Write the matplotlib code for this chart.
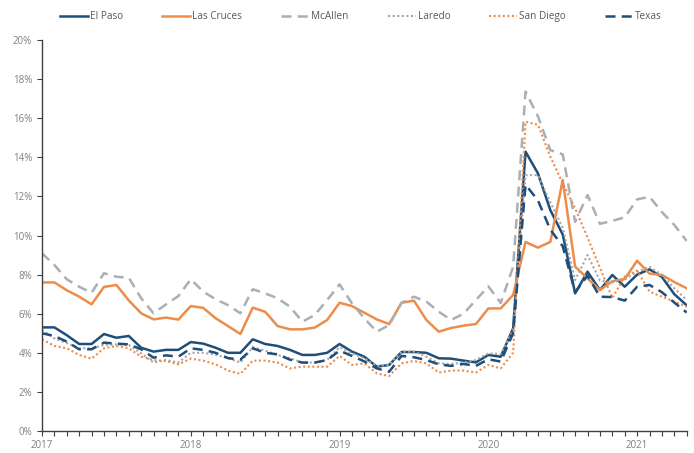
import matplotlib
matplotlib.use("Agg")
import matplotlib.pyplot as plt
import numpy as np
import pandas as pd

# monthly rates, Jan 2017 - May 2021 (percent)
months = pd.date_range("2017-01-01", periods=53, freq="MS")

el_paso = [5.3, 5.3, 4.9, 4.45, 4.45, 4.96, 4.77, 4.86, 4.26, 4.06, 4.15, 4.15,
           4.55, 4.47, 4.26, 4.0, 4.0, 4.69, 4.45, 4.35, 4.15, 3.89, 3.89, 4.0,
           4.45, 4.06, 3.8, 3.29, 3.38, 4.04, 4.04, 4.0, 3.72, 3.7, 3.6, 3.51,
           3.89, 3.8, 5.25, 14.29, 13.18, 11.3, 10.05, 7.04, 8.15, 7.21, 7.98, 7.38,
           8.0, 8.27, 7.88, 7.0, 6.43]
las_cruces = [7.6, 7.6, 7.2, 6.87, 6.48, 7.37, 7.47, 6.68, 6.02, 5.71, 5.8, 5.7,
              6.39, 6.3, 5.77, 5.37, 4.96, 6.31, 6.1, 5.37, 5.2, 5.2, 5.29, 5.68,
              6.56, 6.39, 6.05, 5.71, 5.47, 6.56, 6.67, 5.68, 5.08, 5.27, 5.39, 5.47,
              6.27, 6.27, 6.96, 9.67, 9.38, 9.67, 12.84, 8.41, 7.81, 7.21, 7.66, 7.78,
              8.71, 8.05, 7.98, 7.62, 7.3]
mcallen = [9.09, 8.49, 7.76, 7.38, 7.07, 8.07, 7.89, 7.84, 6.79, 6.02, 6.48, 6.9,
           7.76, 7.13, 6.74, 6.44, 6.02, 7.25, 7.04, 6.79, 6.36, 5.59, 5.93, 6.7,
           7.5, 6.53, 5.76, 5.08, 5.42, 6.56, 6.87, 6.62, 6.1, 5.68, 6.0, 6.7,
           7.4, 6.55, 8.4, 17.36, 16.1, 14.37, 14.15, 10.7, 12.07, 10.6, 10.75, 10.93,
           11.85, 11.98, 11.2, 10.54, 9.72]
laredo = [5.17, 4.74, 4.5, 4.23, 4.23, 4.4, 4.43, 4.4, 3.97, 3.5, 3.63, 3.5,
          4.0, 4.0, 3.9, 3.72, 3.5, 4.29, 4.11, 3.89, 3.72, 3.5, 3.5, 3.63,
          4.29, 3.97, 3.72, 3.33, 3.38, 4.06, 4.06, 3.8, 3.46, 3.43, 3.5, 3.63,
          3.97, 3.94, 5.17, 13.09, 13.09, 11.7, 10.4, 7.72, 9.0, 7.7, 7.6, 7.75,
          8.15, 8.4, 7.98, 7.3, 6.7]
san_diego = [4.69, 4.35, 4.23, 3.89, 3.7, 4.23, 4.35, 4.23, 3.8, 3.63, 3.58, 3.41,
             3.7, 3.6, 3.41, 3.09, 2.92, 3.6, 3.6, 3.5, 3.2, 3.29, 3.29, 3.29,
             3.84, 3.38, 3.46, 2.95, 2.81, 3.46, 3.58, 3.46, 2.99, 3.09, 3.09, 2.99,
             3.38, 3.2, 4.0, 15.82, 15.67, 14.03, 12.67, 11.39, 9.9, 8.35, 6.8, 7.9,
             8.2, 7.13, 6.87, 6.62, 6.36]
texas = [5.0, 4.86, 4.57, 4.18, 4.18, 4.52, 4.47, 4.43, 4.18, 3.75, 3.87, 3.8,
         4.23, 4.15, 4.0, 3.73, 3.65, 4.23, 4.0, 3.92, 3.65, 3.5, 3.5, 3.63,
         4.11, 3.84, 3.56, 3.2, 3.03, 3.84, 3.77, 3.63, 3.41, 3.33, 3.43, 3.33,
         3.67, 3.55, 5.0, 12.6, 11.8, 10.3, 9.45, 7.1, 7.95, 6.87, 6.85, 6.67,
         7.38, 7.47, 7.1, 6.57, 6.06]

navy = "#1F4E79"
orange = "#EE8C4A"
grey = "#A9AFB7"

plt.rcParams["font.family"] = ["Open Sans", "DejaVu Sans"]

fig = plt.figure(figsize=(6.94, 4.53), dpi=100)
ax = fig.add_axes([0.0605, 0.0486, 0.929, 0.863])

x = np.arange(len(months))
ax.plot(x, el_paso, color=navy, lw=1.8, label="El Paso")
ax.plot(x, las_cruces, color=orange, lw=1.8, label="Las Cruces")
ax.plot(x, mcallen, color=grey, lw=1.8, ls=(0, (4, 2.5)), label="McAllen")
ax.plot(x, laredo, color="#A6A6A6", lw=1.5, ls=(0, (1, 1.2)), label="Laredo")
ax.plot(x, san_diego, color=orange, lw=1.5, ls=(0, (1, 1.2)), label="San Diego")
ax.plot(x, texas, color=navy, lw=1.8, ls=(0, (4, 2.5)), label="Texas")

ax.set_xlim(0, len(months) - 1)
ax.set_ylim(0, 20)
ax.set_yticks(np.arange(0, 21, 2))
ax.set_yticklabels([f"{v}%" for v in range(0, 21, 2)])
ax.set_xticks(x)
ax.set_xticklabels([str(d.year) if d.month == 1 else "" for d in months])

for s in ["top", "right"]:
    ax.spines[s].set_visible(False)
for s in ["left", "bottom"]:
    ax.spines[s].set_color("#404040")
    ax.spines[s].set_linewidth(1.0)
ax.tick_params(axis="both", colors="#404040", labelcolor="#808080", labelsize=7,
               length=3.5, width=0.8)
ax.tick_params(axis="x", pad=3)

fig.legend(loc="upper center", bbox_to_anchor=(0.52, 0.995), ncol=6, frameon=False,
           fontsize=7.2, handlelength=2.8, columnspacing=3.9, handletextpad=0.2,
           labelcolor="#595959")

plt.savefig("out.png", dpi=100)
